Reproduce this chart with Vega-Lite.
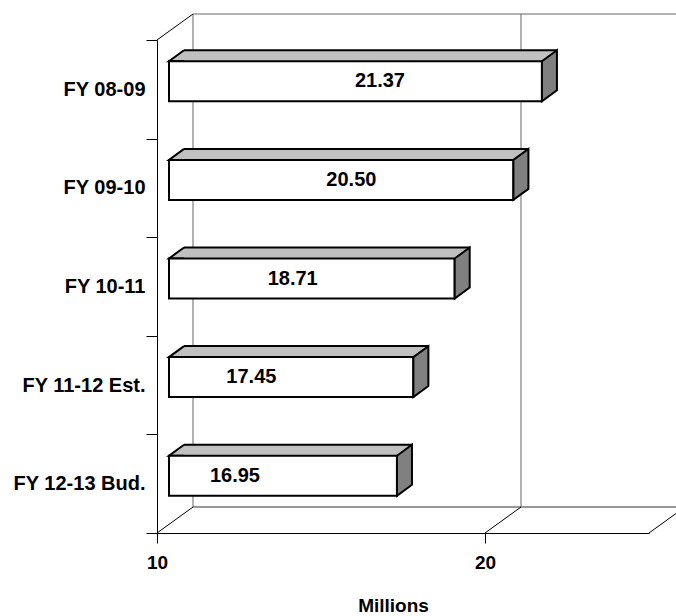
{
  "$schema": "https://vega.github.io/schema/vega-lite/v6.json",
  "width": 492,
  "height": 493,
  "autosize": {"type": "none"},
  "padding": {"left": 157, "top": 40, "right": 27, "bottom": 83},
  "background": "white",
  "config": {"view": {"stroke": null}, "font": "Liberation Sans"},
  "data": {
    "values": [
      {"period": "FY 08-09", "value": 21.37},
      {"period": "FY 09-10", "value": 20.50},
      {"period": "FY 10-11", "value": 18.71},
      {"period": "FY 11-12 Est.", "value": 17.45},
      {"period": "FY 12-13 Bud.", "value": 16.95}
    ]
  },
  "encoding": {
    "y": {"field": "period", "type": "nominal",
      "scale": {"domain": ["FY 08-09", "FY 09-10", "FY 10-11", "FY 11-12 Est.", "FY 12-13 Bud."], "paddingInner": 0, "paddingOuter": 0},
      "axis": {"title": null, "tickBand": "extent", "tickSize": 11, "tickColor": "black", "domainColor": "black", "grid": false,
        "labelFont": "Liberation Sans", "labelFontSize": 20, "labelFontWeight": "bold", "labelColor": "black", "labelPadding": 1, "labelLimit": 300}},
    "x": {"field": "value", "type": "quantitative", "scale": {"domain": [10, 25], "nice": false, "zero": false},
      "axis": {"values": [10, 20], "title": "Millions", "grid": false, "labelFlush": false, "tickSize": 10, "tickColor": "black", "domainColor": "black",
        "labelFont": "Liberation Sans", "labelFontSize": 19, "labelFontWeight": "bold", "labelColor": "black", "labelPadding": 10,
        "titleFont": "Liberation Sans", "titleFontSize": 19, "titleFontWeight": "bold", "titleColor": "black", "titlePadding": 24, "titleX": 236}}
  },
  "layer": [
    {
      "mark": {"type": "point", "shape": "M3.6,-2.6 L3.6,46.7", "size": 400, "filled": false, "fill": null, "stroke": "#666666", "strokeWidth": 1, "opacity": 1},
      "data": {"values": [{"at": 10}, {"at": 20}]},
      "encoding": {
        "x": {"field": "at", "type": "quantitative"},
        "y": {"datum": "FY 08-09", "type": "nominal", "bandPosition": 0}
      }
    },
    {
      "mark": {"type": "point", "shape": "M3.6,-2.6 L53.5,-2.6", "size": 400, "filled": false, "fill": null, "stroke": "#666666", "strokeWidth": 1, "opacity": 1},
      "data": {"values": [{"at": 10}]},
      "encoding": {
        "x": {"field": "at", "type": "quantitative"},
        "y": {"datum": "FY 08-09", "type": "nominal", "bandPosition": 0}
      }
    },
    {
      "mark": {"type": "point", "shape": "M3.6,-2.6 L53.5,-2.6", "size": 400, "filled": false, "fill": null, "stroke": "#333333", "strokeWidth": 1, "opacity": 1},
      "data": {"values": [{"at": 10}]},
      "encoding": {
        "x": {"field": "at", "type": "quantitative"},
        "y": {"datum": "FY 12-13 Bud.", "type": "nominal", "bandPosition": 1}
      }
    },
    {
      "mark": {"type": "point", "shape": "M0,0 L3.6,-2.6", "size": 400, "filled": false, "fill": null, "stroke": "black", "strokeWidth": 1, "opacity": 1},
      "data": {"values": [{"at": 10}]},
      "encoding": {
        "x": {"field": "at", "type": "quantitative"},
        "y": {"datum": "FY 08-09", "type": "nominal", "bandPosition": 0}
      }
    },
    {
      "mark": {"type": "point", "shape": "M0,0 L3.6,-2.6", "size": 400, "filled": false, "fill": null, "stroke": "black", "strokeWidth": 1, "opacity": 1},
      "data": {"values": [{"at": 10}, {"at": 20}, {"at": 25}]},
      "encoding": {
        "x": {"field": "at", "type": "quantitative"},
        "y": {"datum": "FY 12-13 Bud.", "type": "nominal", "bandPosition": 1}
      }
    },
    {
      "mark": {"type": "bar", "fill": "#C0C0C0", "strokeWidth": 0, "height": 11, "xOffset": 27, "x2Offset": 27, "yOffset": -33.5},
      "encoding": {
        "x2": {"datum": 10}
      }
    },
    {
      "mark": {"type": "point", "shape": "M1.5,-2 L0,-2 L1.5,-3.1", "size": 400, "filled": true, "fill": "#C0C0C0", "stroke": "black", "strokeWidth": 2, "opacity": 1, "xOffset": 12, "yOffset": -8},
      "encoding": {
        "x": {"datum": 10, "type": "quantitative"}
      }
    },
    {
      "mark": {"type": "rule", "color": "black", "strokeWidth": 2, "xOffset": 27, "x2Offset": 27, "yOffset": -39},
      "encoding": {
        "x2": {"datum": 10}
      }
    },
    {
      "mark": {"type": "bar", "fill": "white", "stroke": "black", "strokeWidth": 2, "height": 40, "xOffset": 12, "x2Offset": 12, "yOffset": -8},
      "encoding": {
        "x2": {"datum": 10}
      }
    },
    {
      "mark": {"type": "point", "shape": "M0,-2 L1.5,-3.1 L1.5,0.9 L0,2 Z", "size": 400, "filled": true, "fill": "#808080", "stroke": "black", "strokeWidth": 2, "opacity": 1, "xOffset": 12, "yOffset": -8}
    },
    {
      "mark": {"type": "text", "font": "Liberation Sans", "fontSize": 20, "fontWeight": "bold", "color": "black", "baseline": "middle", "align": "center", "xOffset": -150, "yOffset": -8},
      "encoding": {
        "text": {"field": "value", "type": "quantitative", "format": ".2f"}
      }
    }
  ]
}
